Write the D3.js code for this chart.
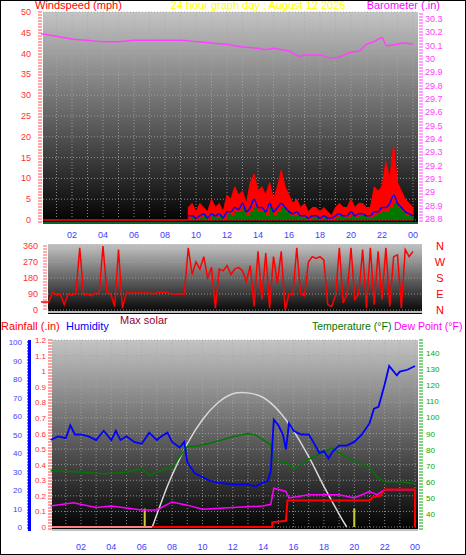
<!DOCTYPE html>
<html><head><meta charset="utf-8">
<script src="https://cdn.jsdelivr.net/npm/d3@7"></script>
<style>body{margin:0;background:#fff}svg{display:block;font-family:"Liberation Sans",Arial,sans-serif}</style>
</head><body>
<svg id="chart" width="466" height="555"></svg>
<script>
// -------------------- DATA -------------------- //
const hourTicks = ["02","04","06","08","10","12","14","16","18","20","22","00"];
const windStart = 9.5, windStep = 0.25;
const windGust = [3,4,2,4,3,2,5,3,4,2,6,5,8,6,7,4,9,11,7,8,6,9,5,8,12,8,6,4,5,3,4,2,3,3,2,3,2,1,3,4,3,3,5,3,4,4,3,3,8,7,8,14,10,18,9,7,5,4,3];
const windAvg  = [1,1,0.5,1,1.5,0.5,1.5,1,1.5,0.5,2,2,3,2.5,4,2,3,5,3,3,2,4,2,3,4,3,2,1.5,2,1,1,0.5,1,1,0.5,1,0.5,0.5,1,1.5,1,1,2,1,1.5,1.5,1,1,2,2,3,3,4,6,4,3,2,1.5,1];
const windLow  = [0,0.5,0,0.5,1,0,1,0.5,1,0,1.5,1,2,2,3,1,2,3,2,2,1,3,1,2,3,2,1,1,1,0.5,0.5,0,0.5,0.5,0,0.5,0,0,0.5,1,0.5,0.5,1,0.5,1,1,0.5,0.5,1,1.5,2,2,3,4,3,2,1,1,0.5];
const baroTimes = [0,1,2,3,4,5,6,7,8,9,10,11,12,13,14,14.5,15,15.5,16,16.7,17,18,18.6,19,20,20.5,21,21.5,22,22.3,23,23.3,24];
const baroVals  = [30.19,30.17,30.15,30.14,30.13,30.13,30.14,30.14,30.14,30.14,30.13,30.12,30.11,30.09,30.08,30.07,30.08,30.07,30.06,30.02,30.03,30.03,30.01,30.01,30.05,30.06,30.11,30.13,30.16,30.10,30.11,30.12,30.11];
const dirStep = 0.25;
const dirVals = [45,45,45,100,85,90,30,90, 85,90,350,85,90,80,95,90, 360,100,90,20,340,10,95,95,
  95,95,95,95,95,90,100,100, 100,95,90,90,90,90,350,200, 270,230,300,180,240,10,230,220,
  250,200,230,240,220,160,250,20, 330,60,320,10,300,150,330,0, 90,85,350,90,80,270,300,290,
  300,280,30,20,80,350,40,90, 350,60,90,340,10,350,30,330, 60,350,20,300,310,10,340,300,330];
const humTimes = [0,0.5,1,1.3,1.6,2,2.5,3,3.5,4,4.3,4.6,5,5.5,6,6.5,7,7.3,7.7,8,8.5,8.8,9,9.5,10,10.5,11,12,12.5,13,13.5,14,14.3,14.5,14.7,15,15.3,15.5,15.7,16,16.5,17,17.3,17.7,18,18.3,18.6,19,19.5,20,20.5,21,21.3,21.6,22,22.3,22.8,23,23.5,24];
const humVals  = [47,49,48,55,50,50,49,47,52,47,52,47,49,46,45,51,47,49,51,46,43,46,35,29,27,25,24,23,23,23,22,24,25,30,58,55,50,42,56,52,50,50,46,40,41,37,41,44,44,46,50,56,64,65,77,87,82,84,85,87];
const tempTimes = [0,2,3.5,5,6,6.5,7,8,9,9.5,10.5,12,13,13.5,14,14.5,14.7,15.5,16,16.5,17,18.5,19,20,21,21.5,22,23,24];
const tempVals  = [67,66,65,66,68,64,66,69,82,82,84,88,90,89,86,83,73,72,68,71,74,81,78,73,69,63,60,60,59];
const dewTimes = [0,1.5,3,4,6,7,8,9,10,12,14,14.5,14.7,15.5,15.7,17,18,19,20,21,21.5,22,24];
const dewVals  = [45,47,44,45,42.5,42.5,47.5,45.5,43,44,45,46,56,54,50,52,52,52,50,54,52,55,55];
const rainTimes = [6.7,14.6,14.6,15.5,15.6,21,21.2,21.7,22,24,24];
const rainVals  = [0,0,0.03,0.04,0.17,0.17,0.19,0.2,0.24,0.24,0];
const solarTimes = [6.7,7.5,8,9,10,11,12,13,14,15,16,17,18,19,19.5];
const solarVals  = [0,18,28,45,58,67,72,72.5,70,63,52,38,22,7,0];
const sunMarks = [6.2, 20];

// -------------------- SETUP -------------------- //
const svg = d3.select("#chart");
svg.append("rect").attr("x",0.5).attr("y",0.5).attr("width",465).attr("height",554).attr("fill","#fff").attr("stroke","#000");
const defs = svg.append("defs");
const grad = defs.append("linearGradient").attr("id","bg").attr("x1",0).attr("x2",0).attr("y1",0).attr("y2",1);
grad.append("stop").attr("offset","0%").attr("stop-color","#c4c4c4");
grad.append("stop").attr("offset","100%").attr("stop-color","#000");

function panel(x0, x1, y0, y1) {
    svg.append("rect").attr("x",x0).attr("y",y0).attr("width",x1-x0).attr("height",y1-y0).attr("fill","url(#bg)");
}
function grid(xs, ys, x0, x1, y0, y1) {
    const g = svg.append("g").attr("stroke","#a8a8a8").attr("stroke-dasharray","1,2").attr("stroke-opacity",0.8);
    xs.forEach(x => g.append("line").attr("x1",x).attr("x2",x).attr("y1",y0).attr("y2",y1));
    ys.forEach(y => g.append("line").attr("x1",x0).attr("x2",x1).attr("y1",y).attr("y2",y));
}
function text(x, y, s, color, anchor, size) {
    svg.append("text").attr("x",x).attr("y",y).attr("fill",color).attr("text-anchor",anchor||"start")
        .attr("font-size",size||9).text(s);
}
function dotTicks(x, y0, y1, color, step) {
    for (let y = y0; y <= y1; y += step)
        svg.append("line").attr("x1",x-2).attr("x2",x+2).attr("y1",y).attr("y2",y).attr("stroke",color);
}

// -------------------- TOP: WIND / BARO -------------------- //
const xTop = d3.scaleLinear().domain([0,24]).range([41,413]);
const yWind = d3.scaleLinear().domain([0,50]).range([220,12]);
const yBaro = d3.scaleLinear().domain([28.8,30.3]).range([219,19]);
panel(43, 418, 12, 224);
grid(d3.range(1,25).map(xTop), d3.range(0,51,5).map(yWind), 43, 418, 12, 224);
dotTicks(40, 12, 222, "#ff5050", 3);
dotTicks(421, 14, 222, "#ff40ff", 3);
d3.range(0,51,5).forEach(v => text(31, yWind(v)+3, v, "#ff3030", "end"));
d3.range(28.8,30.31,0.1).forEach(v => text(425, yBaro(v)+3, +v.toFixed(1), "#ff40ff"));
hourTicks.forEach((h,i) => text(xTop(2+2*i), 238, h, "#4040ff", "middle"));
text(35, 9, "Windspeed (mph)", "#ff0000", "start", 11);
text(258, 9, "24 hour graph day : August 12 2026", "#ffff00", "middle", 11);
text(440, 9, "Barometer (.in)", "#ff00ff", "end", 11);
const wt = i => windStart + i*windStep;
svg.append("line").attr("x1",xTop(0)+2).attr("x2",xTop(windStart)).attr("y1",yWind(0)).attr("y2",yWind(0)).attr("stroke","#cc0000").attr("stroke-width",2);
svg.append("rect").attr("x",43).attr("y",222).attr("width",375).attr("height",2).attr("fill","#006633");
const windArea = (arr, curve) => d3.area().x((d,i) => xTop(wt(i))).y0(yWind(0)).y1(d => yWind(d)).curve(curve)(arr);
svg.append("path").attr("d",windArea(windGust, d3.curveLinear)).attr("fill","#ff0000").attr("stroke","#ff0000").attr("stroke-width",1);
svg.append("path").attr("d",windArea(windLow, d3.curveStepAfter)).attr("fill","#007700");
svg.append("path").attr("d",d3.line().x((d,i) => xTop(wt(i))).y(d => yWind(d)).curve(d3.curveMonotoneX)(windAvg))
    .attr("fill","none").attr("stroke","#0000ff").attr("stroke-width",1.5);
svg.append("path").attr("d",d3.line().x(d => xTop(d[0])).y(d => yBaro(d[1])).curve(d3.curveMonotoneX)(d3.zip(baroTimes,baroVals)))
    .attr("fill","none").attr("stroke","#ff40ff").attr("stroke-width",1.5);

// -------------------- MIDDLE: DIRECTION -------------------- //
const yDir = d3.scaleLinear().domain([0,360]).range([310,246]);
panel(48, 422, 244, 314);
grid([], d3.range(0,361,90).map(yDir), 48, 422, 244, 314);
svg.append("line").attr("x1",48).attr("x2",422).attr("y1",312).attr("y2",312).attr("stroke","#c0c0c0").attr("stroke-width",2);
dotTicks(45, 246, 311, "#ff6060", 3);
d3.range(0,361,90).forEach(v => text(38, yDir(v)+3, v, "#ff3030", "end"));
["N","E","S","W","N"].forEach((c,i) => text(440, yDir(i*90)+4, c, "#ff0000", "middle", 11));
svg.append("path").attr("d",d3.line().x((d,i) => xTop(i*dirStep)).y(d => yDir(d))(dirVals))
    .attr("fill","none").attr("stroke","#ff0000").attr("stroke-width",1.5);

// -------------------- BOTTOM: TEMP / HUM / RAIN -------------------- //
const xBot = d3.scaleLinear().domain([0,24]).range([50.6,415]);
const yHum = d3.scaleLinear().domain([0,100]).range([527,342]);
const yRain = d3.scaleLinear().domain([0,1.2]).range([527,340]);
const yTemp = d3.scaleLinear().domain([40,140]).range([514,353]);
text(120, 324, "Max solar", "#990033", "start", 11);
text(1, 330, "Rainfall (.in)", "#ff0000", "start", 11);
text(66, 330, "Humidity", "#0000ff", "start", 11);
text(312, 330, "Temperature (°F)", "#007700", "start", 10.5);
text(394, 330, "Dew Point (°F)", "#ff00ff", "start", 10.5);
panel(52, 418, 340, 531);
grid(d3.range(1,25).map(xBot), d3.range(0,1.21,0.1).map(yRain), 52, 418, 340, 531);
svg.append("line").attr("x1",52).attr("x2",418).attr("y1",530).attr("y2",530).attr("stroke","#c0c0c0").attr("stroke-width",2);
svg.append("line").attr("x1",29.5).attr("x2",29.5).attr("y1",340).attr("y2",531).attr("stroke","#0000ff").attr("stroke-width",3);
dotTicks(50, 340, 530, "#ff4040", 3);
dotTicks(421, 340, 530, "#00aa00", 3);
for (let y = 342; y <= 530; y += 3) svg.append("line").attr("x1",27).attr("x2",29).attr("y1",y).attr("y2",y).attr("stroke","#0000ff");
d3.range(0,101,10).forEach(v => text(22, yHum(v)+3, v, "#4040ff", "end", 8));
d3.range(0,1.21,0.1).forEach(v => text(46, yRain(v)+3, +v.toFixed(1), "#ff3030", "end", 8));
d3.range(40,141,10).forEach(v => text(426, yTemp(v)+3, v, "#00aa00", "start", 8));
hourTicks.forEach((h,i) => text(xBot(2+2*i), 550, h, "#4040ff", "middle"));
sunMarks.forEach(t => svg.append("line").attr("x1",xBot(t)).attr("x2",xBot(t)).attr("y1",yHum(0)).attr("y2",yHum(10)).attr("stroke","#cccc33").attr("stroke-width",2));
const lineT = (ts, vs, y, curve) => d3.line().x(d => xBot(d[0])).y(d => y(d[1])).curve(curve || d3.curveLinear)(d3.zip(ts, vs));
svg.append("path").attr("d",lineT(solarTimes, solarVals, yHum, d3.curveCardinal)).attr("fill","none").attr("stroke","#d8d8d8").attr("stroke-width",1.5);
svg.append("path").attr("d",lineT(tempTimes, tempVals, yTemp)).attr("fill","none").attr("stroke","#007700").attr("stroke-width",1.5);
svg.append("path").attr("d",lineT(dewTimes, dewVals, yTemp)).attr("fill","none").attr("stroke","#ff00ff").attr("stroke-width",1.5);
svg.append("path").attr("d",lineT(humTimes, humVals, yHum)).attr("fill","none").attr("stroke","#0000ff").attr("stroke-width",1.8);
svg.append("line").attr("x1",52).attr("x2",xBot(6.7)).attr("y1",yRain(0)).attr("y2",yRain(0)).attr("stroke","#ff8080").attr("stroke-width",2);
svg.append("path").attr("d",lineT(rainTimes, rainVals, yRain)).attr("fill","none").attr("stroke","#ff0000").attr("stroke-width",2);
</script>
</body></html>
